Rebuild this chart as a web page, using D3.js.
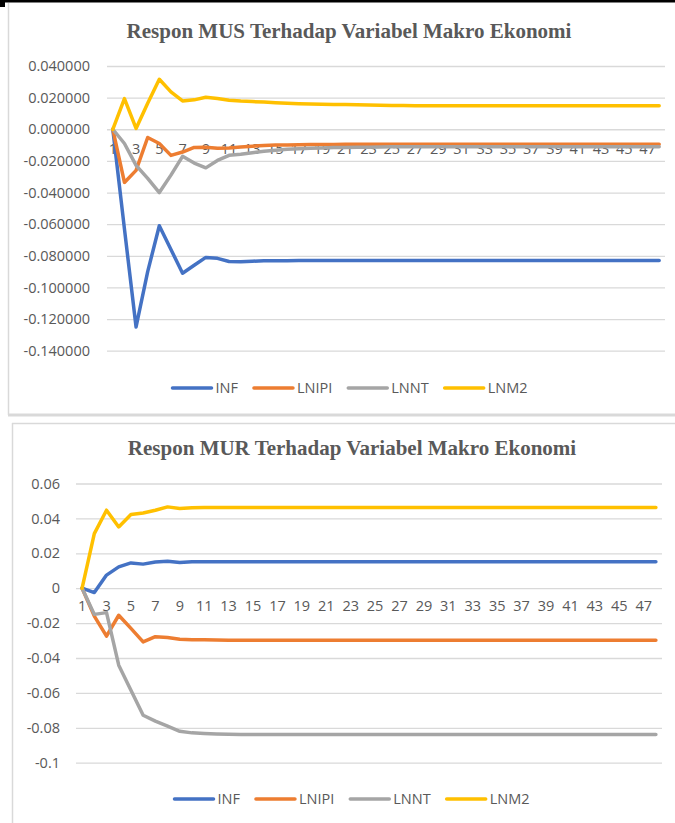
<!DOCTYPE html>
<html><head><meta charset="utf-8">
<script src="https://cdn.jsdelivr.net/npm/d3@7"></script>
<style>
body{margin:0;background:#fff;}
svg{display:block;}
</style></head><body>
<svg id="c" width="675" height="823"></svg>
<script>
const categories = [1,2,3,4,5,6,7,8,9,10,11,12,13,14,15,16,17,18,19,20,21,22,23,24,25,26,27,28,29,30,31,32,33,34,35,36,37,38,39,40,41,42,43,44,45,46,47,48];
const seriesNames = ["INF","LNIPI","LNNT","LNM2"];
const seriesColors = ["#4472C4","#ED7D31","#A5A5A5","#FFC000"];

// Respon MUS
const musINF = [0,-0.063,-0.125,-0.090,-0.061,-0.076,-0.091,-0.086,-0.081,-0.0816,-0.0836,-0.0838,
  -0.0834,-0.0832,-0.0831,-0.0831,-0.0830,-0.0830,-0.0830,-0.0830,-0.0830,-0.0830,-0.0830,-0.0830,
  -0.0830,-0.0830,-0.0830,-0.0830,-0.0830,-0.0830,-0.0830,-0.0830,-0.0830,-0.0830,-0.0830,-0.0830,
  -0.0830,-0.0830,-0.0830,-0.0830,-0.0830,-0.0830,-0.0830,-0.0830,-0.0830,-0.0830,-0.0830,-0.0830];
const musLNIPI = [0,-0.0336,-0.026,-0.0052,-0.009,-0.0165,-0.0144,-0.0115,-0.0113,-0.0120,-0.0118,-0.0112,
  -0.0107,-0.0103,-0.0100,-0.0099,-0.0098,-0.0097,-0.0096,-0.0096,-0.0095,-0.0095,-0.0095,-0.0095,
  -0.0095,-0.0095,-0.0095,-0.0095,-0.0095,-0.0095,-0.0095,-0.0095,-0.0095,-0.0095,-0.0095,-0.0095,
  -0.0095,-0.0095,-0.0095,-0.0095,-0.0095,-0.0095,-0.0095,-0.0095,-0.0095,-0.0095,-0.0095,-0.0095];
const musLNNT = [0,-0.009,-0.0228,-0.031,-0.040,-0.029,-0.0171,-0.0214,-0.0244,-0.0197,-0.0165,-0.0158,
  -0.0148,-0.0139,-0.0132,-0.0127,-0.0123,-0.0120,-0.0118,-0.0116,-0.0115,-0.0114,-0.0113,-0.0112,
  -0.0111,-0.0111,-0.0111,-0.0110,-0.0110,-0.0110,-0.0110,-0.0110,-0.0110,-0.0110,-0.0110,-0.0110,
  -0.0110,-0.0110,-0.0110,-0.0110,-0.0110,-0.0110,-0.0110,-0.0110,-0.0110,-0.0110,-0.0110,-0.0110];
const musLNM2 = [0,0.0194,0.0005,0.0165,0.0316,0.0236,0.0179,0.0186,0.0202,0.0194,0.0184,0.0178,
  0.0175,0.0172,0.0168,0.0165,0.0162,0.0160,0.0158,0.0157,0.0156,0.0155,0.0153,0.0152,
  0.0151,0.0150,0.0149,0.0149,0.0149,0.0148,0.0148,0.0148,0.0148,0.0148,0.0148,0.0148,
  0.0148,0.0148,0.0148,0.0148,0.0148,0.0148,0.0148,0.0148,0.0148,0.0148,0.0148,0.0148];
const musTicks = [0.04,0.02,0,-0.02,-0.04,-0.06,-0.08,-0.1,-0.12,-0.14];
const musTickLabels = ["0.040000","0.020000","0.000000","-0.020000","-0.040000","-0.060000","-0.080000","-0.100000","-0.120000","-0.140000"];

// Respon MUR
const murINF = [0,-0.0025,0.0075,0.0122,0.0145,0.0138,0.0150,0.0155,0.0147,0.0151,0.0152,0.0152,
  0.0152,0.0152,0.0152,0.0152,0.0152,0.0152,0.0152,0.0152,0.0152,0.0152,0.0152,0.0152,
  0.0152,0.0152,0.0152,0.0152,0.0152,0.0152,0.0152,0.0152,0.0152,0.0152,0.0152,0.0152,
  0.0152,0.0152,0.0152,0.0152,0.0152,0.0152,0.0152,0.0152,0.0152,0.0152,0.0152,0.0152];
const murLNIPI = [0,-0.016,-0.0275,-0.0155,-0.023,-0.0308,-0.0278,-0.0282,-0.0292,-0.0295,-0.0296,-0.0297,
  -0.0298,-0.0298,-0.0298,-0.0298,-0.0298,-0.0298,-0.0298,-0.0298,-0.0298,-0.0298,-0.0298,-0.0298,
  -0.0298,-0.0298,-0.0298,-0.0298,-0.0298,-0.0298,-0.0298,-0.0298,-0.0298,-0.0298,-0.0298,-0.0298,
  -0.0298,-0.0298,-0.0298,-0.0298,-0.0298,-0.0298,-0.0298,-0.0298,-0.0298,-0.0298,-0.0298,-0.0298];
const murLNNT = [0,-0.015,-0.014,-0.0441,-0.0585,-0.0728,-0.0762,-0.0791,-0.0820,-0.0829,-0.0832,-0.0835,
  -0.0837,-0.0838,-0.0838,-0.0838,-0.0838,-0.0838,-0.0838,-0.0838,-0.0838,-0.0838,-0.0838,-0.0838,
  -0.0838,-0.0838,-0.0838,-0.0838,-0.0838,-0.0838,-0.0838,-0.0838,-0.0838,-0.0838,-0.0838,-0.0838,
  -0.0838,-0.0838,-0.0838,-0.0838,-0.0838,-0.0838,-0.0838,-0.0838,-0.0838,-0.0838,-0.0838,-0.0838];
const murLNM2 = [0,0.0313,0.0447,0.0351,0.0422,0.0431,0.0447,0.0466,0.0457,0.0461,0.0462,0.0462,
  0.0462,0.0462,0.0462,0.0462,0.0462,0.0462,0.0462,0.0462,0.0462,0.0462,0.0462,0.0462,
  0.0462,0.0462,0.0462,0.0462,0.0462,0.0462,0.0462,0.0462,0.0462,0.0462,0.0462,0.0462,
  0.0462,0.0462,0.0462,0.0462,0.0462,0.0462,0.0462,0.0462,0.0462,0.0462,0.0462,0.0462];
const murTicks = [0.06,0.04,0.02,0,-0.02,-0.04,-0.06,-0.08,-0.1];
const murTickLabels = ["0.06","0.04","0.02","0","-0.02","-0.04","-0.06","-0.08","-0.1"];

const svg = d3.select("#c");
const TEXT = "#595959";
const GRID = "#d9d9d9";
const SANS = "'Open Sans', 'Liberation Sans', sans-serif";
const SERIF = "'Liberation Serif', 'DejaVu Serif', serif";

// frames
svg.append("rect").attr("x",0).attr("y",0).attr("width",675).attr("height",2.5).attr("fill","#000");
svg.append("rect").attr("x",0).attr("y",2).attr("width",5).attr("height",5).attr("fill","#000");
svg.append("line").attr("x1",8.5).attr("x2",8.5).attr("y1",3).attr("y2",415).attr("stroke",GRID).attr("stroke-width",1.5);
svg.append("line").attr("x1",8).attr("x2",675).attr("y1",415).attr("y2",415).attr("stroke",GRID).attr("stroke-width",3);
svg.append("line").attr("x1",12.5).attr("x2",12.5).attr("y1",423).attr("y2",823).attr("stroke",GRID).attr("stroke-width",1.5);
svg.append("line").attr("x1",12).attr("x2",675).attr("y1",423.5).attr("y2",423.5).attr("stroke",GRID).attr("stroke-width",1.5);

function drawChart(cfg){
  const g = svg.append("g");
  g.append("text").attr("x",cfg.titleX).attr("y",cfg.titleY).attr("text-anchor","middle")
    .attr("font-family",SERIF).attr("font-weight","bold").attr("font-size",21).attr("fill",TEXT)
    .text(cfg.title);

  const x = d3.scaleBand().domain(categories).range([cfg.x0,cfg.x1]);
  const y = d3.scaleLinear().domain([cfg.ticks[cfg.ticks.length-1], cfg.ticks[0]]).range([cfg.yBottom, cfg.yTop]);

  const ya = g.append("g").attr("transform",`translate(${cfg.x0},0)`)
    .call(d3.axisLeft(y).tickValues(cfg.ticks).tickSize(-(cfg.x1-cfg.x0)).tickPadding(cfg.x0-cfg.labelX)
      .tickFormat((d,i)=>cfg.tickLabels[i]));
  ya.select(".domain").remove();
  ya.selectAll(".tick line").attr("stroke",GRID).attr("stroke-width",1.3);
  ya.selectAll(".tick text").attr("fill",TEXT).attr("font-family",SANS).attr("font-size",cfg.fontSize);

  const xa = g.append("g").attr("transform",`translate(0,${y(0)})`)
    .call(d3.axisBottom(x).tickSize(0).tickPadding(cfg.xPad).tickFormat(d => d % 2 === 1 ? d : ""));
  xa.select(".domain").remove();
  xa.selectAll(".tick text").attr("fill",TEXT).attr("font-family",SANS).attr("font-size",cfg.fontSize);

  const line = d3.line().x((d,i)=>x(categories[i]) + x.bandwidth()/2).y(d=>y(d));
  cfg.series.forEach((s,k)=>{
    g.append("path").attr("d",line(s)).attr("fill","none").attr("stroke",seriesColors[k])
      .attr("stroke-width",3.5).attr("stroke-linejoin","round").attr("stroke-linecap","round");
  });

  // legend
  const lg = g.append("g");
  let cx = 0;
  seriesNames.forEach((n,k)=>{
    const it = lg.append("g").attr("transform",`translate(${cx},0)`);
    it.append("line").attr("x1",0).attr("x2",39).attr("y1",0).attr("y2",0)
      .attr("stroke",seriesColors[k]).attr("stroke-width",3.5).attr("stroke-linecap","round");
    const t = it.append("text").attr("x",43).attr("y",0).attr("dy","0.35em")
      .attr("font-family",SANS).attr("font-size",cfg.fontSize).attr("fill",TEXT).text(n);
    const w = 43 + t.node().getComputedTextLength();
    cx += w + 16;
  });
  const total = cx - 16;
  lg.attr("transform",`translate(${cfg.legendCX - total/2},${cfg.legendY})`);
}

drawChart({
  title:"Respon MUS Terhadap Variabel Makro Ekonomi", titleX:349, titleY:38,
  x0:107, x1:665, yTop:66, yBottom:350.7, labelX:90, xPad:14, fontSize:14.5,
  ticks:musTicks, tickLabels:musTickLabels,
  series:[musINF,musLNIPI,musLNNT,musLNM2], legendCX:350, legendY:388
});
drawChart({
  title:"Respon MUR Terhadap Variabel Makro Ekonomi", titleX:352, titleY:455,
  x0:76, x1:662, yTop:483.5, yBottom:762.7, labelX:60, xPad:13, fontSize:14.5,
  ticks:murTicks, tickLabels:murTickLabels,
  series:[murINF,murLNIPI,murLNNT,murLNM2], legendCX:352, legendY:799
});
</script>
</body></html>
